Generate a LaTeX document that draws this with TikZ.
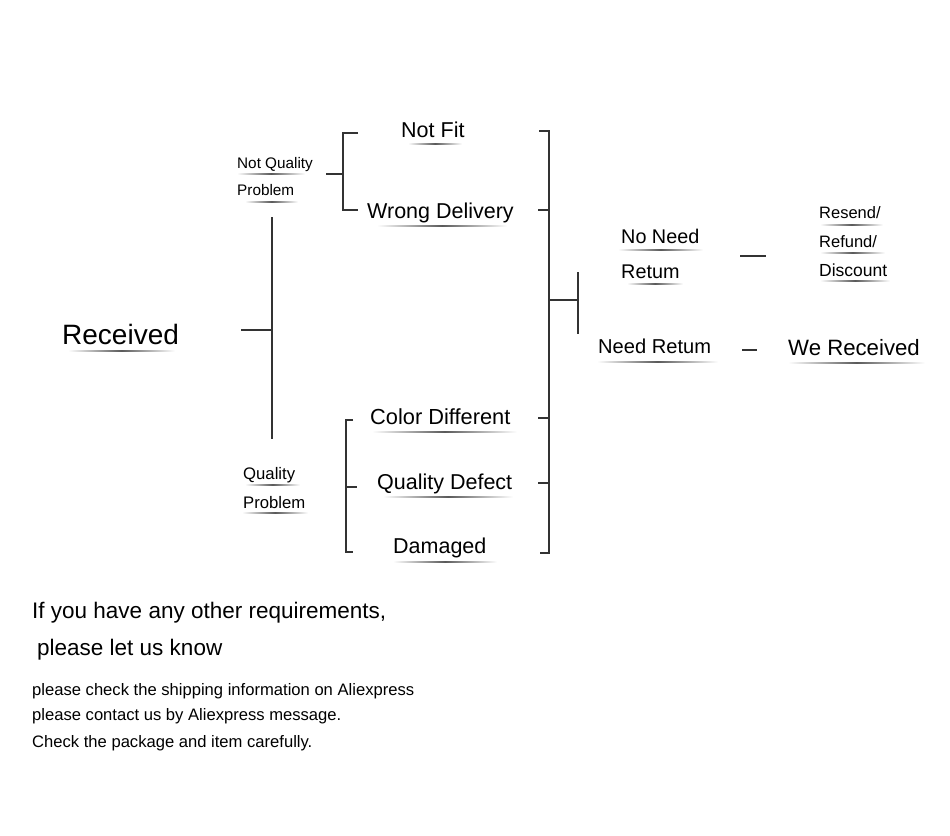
\documentclass[tikz,border=0pt]{standalone}
\usepackage{fontspec}
\setmainfont{Liberation Sans}
\usetikzlibrary{positioning,calc}
\tikzset{
  voce/.style={anchor=base west,inner sep=0pt,text=black},
  ramo/.style={draw=black!80,line width=1.4pt},
  sottolinea/.style={left color=white,right color=white,middle color=black!65}
}

\begin{document}
\begin{tikzpicture}[x=1pt,y=-1pt]
  \useasboundingbox[fill=white] (0,0) rectangle (950,835);
  % voci
  \node[voce,font=\fontsize{28}{30}\selectfont] (recv) at (62,344) {Received};
  \node[voce,font=\fontsize{15.3}{17}\selectfont] (nq1) at (237,168) {Not Quality};
  \node[voce,font=\fontsize{15.3}{17}\selectfont] (nq2) at (237,195) {Problem};
  \node[voce,font=\fontsize{16.7}{18}\selectfont] (q1) at (243,479) {Quality};
  \node[voce,font=\fontsize{16.7}{18}\selectfont] (q2) at (243,508) {Problem};
  \node[voce,font=\fontsize{21.5}{24}\selectfont] (notfit) at (401,137) {Not Fit};
  \node[voce,font=\fontsize{21.5}{24}\selectfont] (wrong) at (367,218) {Wrong Delivery};
  \node[voce,font=\fontsize{21.8}{24}\selectfont] (color) at (370,424) {Color Different};
  \node[voce,font=\fontsize{21.5}{24}\selectfont] (defect) at (377,489) {Quality Defect};
  \node[voce,font=\fontsize{21.5}{24}\selectfont] (damaged) at (393,553) {Damaged};
  \node[voce,font=\fontsize{19.8}{22}\selectfont] (nn1) at (621,243) {No Need};
  \node[voce,font=\fontsize{19.8}{22}\selectfont] (nn2) at (621,278) {Retum};
  \node[voce,font=\fontsize{20.1}{22}\selectfont] (need) at (598,353) {Need Retum};
  \node[voce,font=\fontsize{16.5}{18}\selectfont] (rs1) at (819,218) {Resend/};
  \node[voce,font=\fontsize{16.5}{18}\selectfont] (rs2) at (819,247) {Refund/};
  \node[voce,font=\fontsize{17.5}{18}\selectfont] (rs3) at (819,276) {Discount};
  \node[voce,font=\fontsize{22.2}{24}\selectfont] (werec) at (788,355) {We Received};
  % testo in basso
  \node[voce,font=\fontsize{22.5}{24}\selectfont] (req1) at (32,618) {If you have any other requirements,};
  \node[voce,font=\fontsize{22.5}{24}\selectfont] (req2) at (37,655) {please let us know};
  \node[voce,font=\fontsize{16.6}{18}\selectfont] (inf1) at (32,695) {please check the shipping information on Aliexpress};
  \node[voce,font=\fontsize{16.6}{18}\selectfont] (inf2) at (32,720) {please contact us by Aliexpress message.};
  \node[voce,font=\fontsize{16.6}{18}\selectfont] (inf3) at (32,747) {Check the package and item carefully.};
  % sottolineature
  \foreach \xa/\xb/\yy in {68/175/351, 237/305/174, 245/298/202, 245/300/485, 242/308/513,
      408/462/144, 377/507/226, 372/517/432, 383/513/497, 393/497/562,
      618/703/250, 627/683/284, 597/718/362, 820/883/225, 820/885/253, 820/890/281, 788/925/363}
    \shade[sottolinea] (\xa,\yy-0.9) rectangle (\xb,\yy+0.9);
  % rami
  \coordinate (jL) at (272,330);
  \draw[ramo] (241,330) -- (jL);
  \draw[ramo] (272,217) -- (272,439);
  \draw[ramo] (326,174) -- (343,174);
  \draw[ramo] (358,133) -- (343,133) -- (343,210) -- (358,210);
  \draw[ramo] (353,420) -- (346,420) -- (346,552) -- (353,552);
  \draw[ramo] (346,487) -- (357,487);
  \coordinate (jR) at (549,300);
  \draw[ramo] (539,131) -- (549,131) -- (549,553) -- (540,553);
  \foreach \yy in {210,418,483}
    \draw[ramo] (538,\yy) -- (549,\yy);
  \draw[ramo] (jR) -- (578,300);
  \draw[ramo] (578,272) -- (578,334);
  \draw[ramo] (740,256) -- (766,256);
  \draw[ramo] (742,350) -- (757,350);
\end{tikzpicture}
\end{document}
